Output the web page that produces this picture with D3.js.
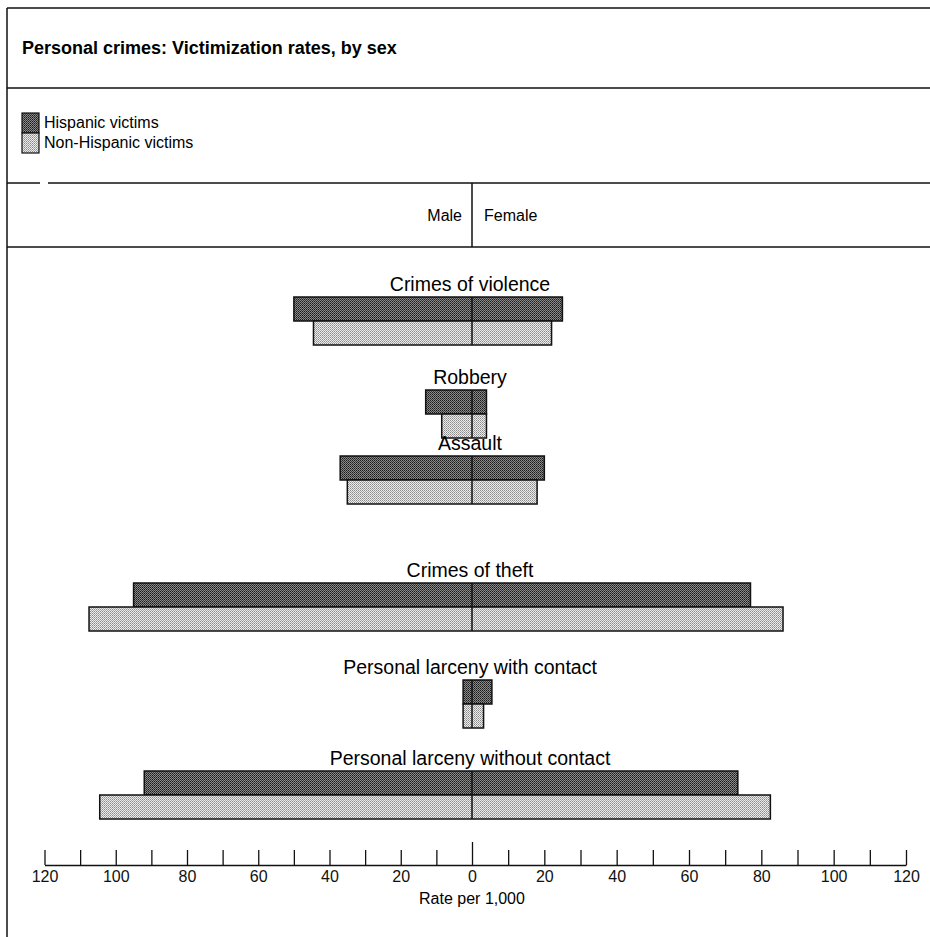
<!DOCTYPE html>
<html>
<head>
<meta charset="utf-8">
<script src="https://cdn.jsdelivr.net/npm/d3@7"></script>
<style>
  body { margin: 0; background: #fff; }
  svg { display: block; font-family: "Liberation Sans", Arial, Helvetica, sans-serif; }
</style>
</head>
<body>
<div id="chart"></div>
<script>
// Rates per 1,000
const categories = ["Crimes of violence", "Robbery", "Assault", "Crimes of theft",
  "Personal larceny with contact", "Personal larceny without contact"]
const hispanicMale = [50, 13, 37, 95, 2.5, 92]
const hispanicFemale = [25, 4, 20, 77, 5.5, 73.5]
const nonHispanicMale = [44.5, 8.5, 35, 107.5, 2.5, 104.5]
const nonHispanicFemale = [22, 4, 18, 86, 3.2, 82.5]
const seriesNames = ["Hispanic victims", "Non-Hispanic victims"]
const tickValues = d3.range(-120, 121, 10)

const width = 930, height = 937
const svg = d3.select("#chart").append("svg")
    .attr("width", width)
    .attr("height", height)

// dotted screens like the printed original
const defs = svg.append("defs")
const dark = defs.append("pattern").attr("id", "dark")
    .attr("width", 2).attr("height", 2).attr("patternUnits", "userSpaceOnUse")
dark.append("rect").attr("width", 2).attr("height", 2).attr("fill", "#8a8a8a")
dark.append("rect").attr("width", 1).attr("height", 1).attr("fill", "#1a1a1a")
dark.append("rect").attr("x", 1).attr("y", 1).attr("width", 1).attr("height", 1).attr("fill", "#3a3a3a")

const light = defs.append("pattern").attr("id", "light")
    .attr("width", 2).attr("height", 2).attr("patternUnits", "userSpaceOnUse")
light.append("rect").attr("width", 2).attr("height", 2).attr("fill", "#ececec")
light.append("rect").attr("width", 1).attr("height", 1).attr("fill", "#8a8a8a")
light.append("rect").attr("x", 1).attr("y", 1).attr("width", 1).attr("height", 1).attr("fill", "#a8a8a8")

const fills = ["url(#dark)", "url(#light)"]

// frame and panel rules
function line(x1, y1, x2, y2) {
    return svg.append("line")
        .attr("x1", x1).attr("y1", y1).attr("x2", x2).attr("y2", y2)
        .attr("stroke", "#111").attr("stroke-width", 1.5)
}
line(7, 8, width, 8)
line(7, 8, 7, height)
line(7, 88, width, 88)
line(7, 183, 40, 183)
line(48, 183, width, 183)
line(7, 247, width, 247)

svg.append("text")
    .attr("x", 22).attr("y", 54)
    .attr("font-size", 18).attr("font-weight", "bold")
    .text("Personal crimes: Victimization rates, by sex")

// legend
const legend = svg.append("g").attr("transform", "translate(22,113)")
seriesNames.forEach((name, i) => {
    legend.append("rect")
        .attr("x", 0).attr("y", i * 20)
        .attr("width", 17).attr("height", 20)
        .attr("fill", fills[i]).attr("stroke", "#111").attr("stroke-width", 1.2)
    legend.append("text")
        .attr("x", 22).attr("y", i * 20 + 15)
        .attr("font-size", 16)
        .text(name)
})

// scales
const x = d3.scaleLinear().domain([-120, 0, 120]).range([44.5, 472, 906])
const y = d3.scaleOrdinal().domain(categories).range([297, 390, 456, 583, 680, 771])
const barH = 24

// Male / Female header
line(x(0), 183, x(0), 247)
svg.append("text").attr("x", x(0) - 10).attr("y", 221)
    .attr("text-anchor", "end").attr("font-size", 16).text("Male")
svg.append("text").attr("x", x(0) + 12).attr("y", 221)
    .attr("font-size", 16).text("Female")

// bars
const groups = svg.selectAll("g.group")
    .data(categories)
    .enter()
    .append("g")
    .attr("class", "group")
    .attr("transform", d => "translate(0," + y(d) + ")")

groups.append("text")
    .attr("x", x(0) - 2)
    .attr("y", -6)
    .attr("text-anchor", "middle")
    .attr("font-size", 19.5)
    .text(d => d)

const series = [
    { male: hispanicMale, female: hispanicFemale },
    { male: nonHispanicMale, female: nonHispanicFemale }
]

series.forEach((s, si) => {
    groups.append("rect")
        .attr("x", (d, i) => x(-s.male[i]))
        .attr("y", si * barH)
        .attr("width", (d, i) => x(s.female[i]) - x(-s.male[i]))
        .attr("height", barH)
        .attr("fill", fills[si])
        .attr("stroke", "#111")
        .attr("stroke-width", 1.5)
})

groups.append("line")
    .attr("x1", x(0)).attr("x2", x(0))
    .attr("y1", 0).attr("y2", barH * 2)
    .attr("stroke", "#111").attr("stroke-width", 1.5)

// axis: ticks every 10, labels every 20
const axis = d3.axisBottom(x)
    .tickValues(tickValues)
    .tickSizeInner(-15)
    .tickSizeOuter(0)
    .tickPadding(6)
    .tickFormat(d => d % 20 === 0 ? Math.abs(d) : "")

const ax = svg.append("g")
    .attr("transform", "translate(0,865)")
    .call(axis)
ax.selectAll("path, line").attr("stroke", "#111").attr("stroke-width", 1.3)
ax.selectAll("text").attr("font-size", 16).attr("fill", "#111")
    .attr("font-family", "Liberation Sans, Arial, sans-serif")
ax.selectAll(".tick").filter(d => d === 0).select("line").attr("y2", -23)

svg.append("text")
    .attr("x", x(0)).attr("y", 904)
    .attr("text-anchor", "middle").attr("font-size", 16)
    .text("Rate per 1,000")
</script>
</body>
</html>
